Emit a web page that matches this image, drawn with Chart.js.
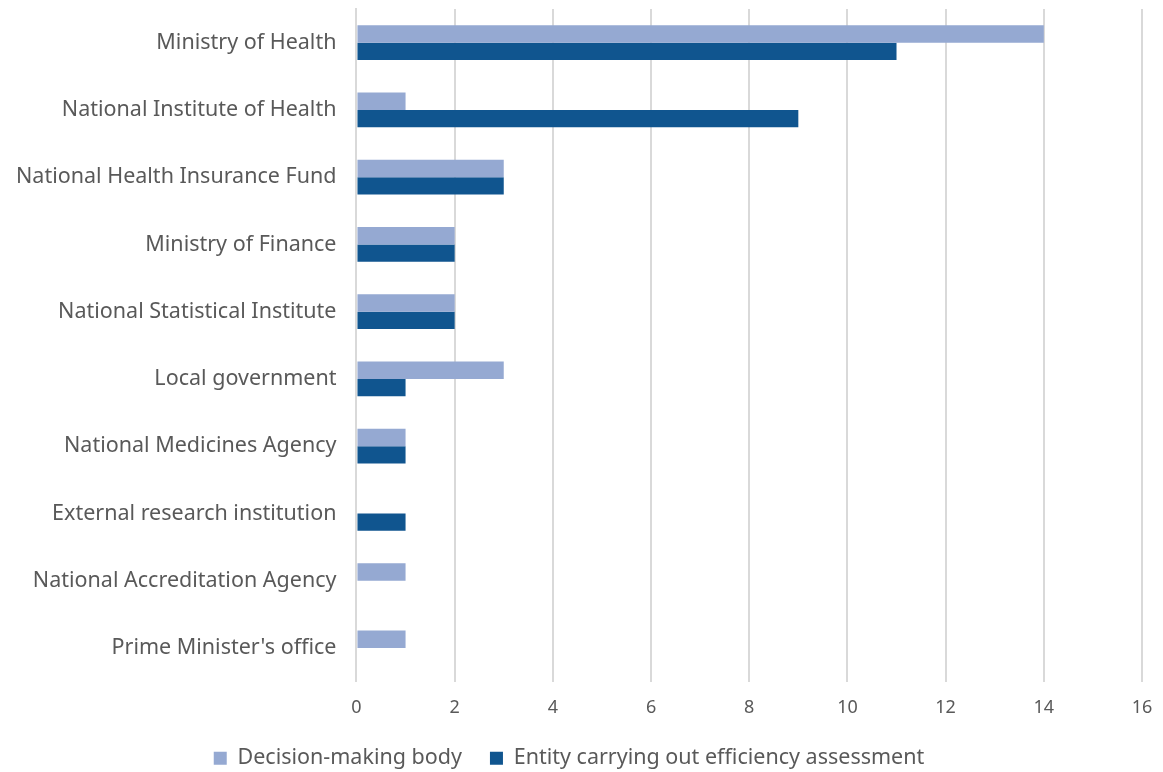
<!DOCTYPE html>
<html>
<head>
<meta charset="utf-8">
<script src="https://cdn.jsdelivr.net/npm/chart.js@4"></script>
<style>
  html, body { margin: 0; padding: 0; background: #fff; }
  #wrap { width: 1163px; height: 772px; }
</style>
</head>
<body>
<div id="wrap"><canvas id="bar-chart"></canvas></div>
<script>
  var categories = [
    'Ministry of Health',
    'National Institute of Health',
    'National Health Insurance Fund',
    'Ministry of Finance',
    'National Statistical Institute',
    'Local government',
    'National Medicines Agency',
    'External research institution',
    'National Accreditation Agency',
    "Prime Minister's office"
  ];
  var decisionMaking = [14, 1, 3, 2, 2, 3, 1, null, 1, 1];
  var efficiencyEntity = [11, 9, 3, 2, 2, 1, 1, 1, null, null];
  var xTicks = [0, 2, 4, 6, 8, 10, 12, 14, 16];

  Chart.defaults.font.family = "'Noto Sans', 'Open Sans', sans-serif";
  Chart.defaults.color = '#595959';

  var ctxBar = document.getElementById('bar-chart').getContext('2d');
  new Chart(ctxBar, {
    type: 'bar',
    data: {
      labels: categories,
      datasets: [{
        label: 'Decision-making body',
        data: decisionMaking,
        backgroundColor: '#95A9D2',
        categoryPercentage: 0.52,
        barPercentage: 1
      }, {
        label: 'Entity carrying out efficiency assessment',
        data: efficiencyEntity,
        backgroundColor: '#10558F',
        categoryPercentage: 0.52,
        barPercentage: 1
      }]
    },
    options: {
      indexAxis: 'y',
      responsive: true,
      maintainAspectRatio: false,
      animation: false,
      layout: { padding: { left: -4, right: 21, top: 9, bottom: -7 } },
      scales: {
        x: {
          min: 0,
          max: 16,
          afterBuildTicks: function (axis) {
            axis.ticks = xTicks.map(function (v) { return { value: v }; });
          },
          afterFit: function (scale) {
            scale.height = 38;
            scale.paddingLeft = 0;
            scale.paddingRight = 0;
          },
          grid: { color: '#D9D9D9', lineWidth: 2, drawTicks: false },
          border: { display: false },
          ticks: { font: { size: 18 }, padding: 16 }
        },
        y: {
          grid: { display: false, drawTicks: false },
          border: { color: '#D9D9D9', width: 2 },
          ticks: { font: { size: 21.5 }, padding: 20 },
          afterFit: function (scale) {
            // no extra room above/below the category labels
            scale.paddingTop = 0;
            scale.paddingBottom = 0;
          }
        }
      },
      plugins: {
        legend: {
          display: true,
          position: 'bottom',
          labels: {
            font: { size: 21.5 },
            boxWidth: 13,
            boxHeight: 13,
            padding: 28
          }
        },
        tooltip: { enabled: false }
      }
    }
  });
</script>
</body>
</html>
